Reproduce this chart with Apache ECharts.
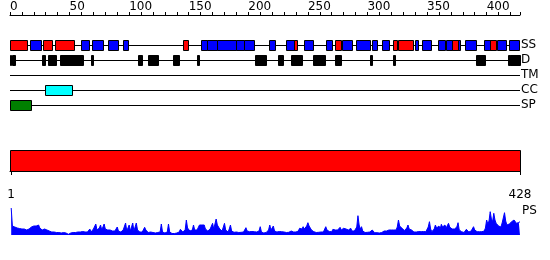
<!DOCTYPE html>
<html><head><meta charset="utf-8">
<script src="https://cdn.jsdelivr.net/npm/echarts@6/dist/echarts.min.js"></script>
<style>html,body{margin:0;padding:0;background:#fff}#c{width:550px;height:260px}</style>
</head><body><div id="c"></div>
<script>
const seqLength = 428;
const trackNames = ['SS', 'D', 'TM', 'CC', 'SP'];
const rulerLabels = [0, 50, 100, 150, 200, 250, 300, 350, 400];
const lengthLabels = [1, 428];
const helices = [[1,14],[29,35],[39,54],[146,149],[239,241],[274,278],[322,325],[327,338],[372,376],[404,408]];
const strands = [[18,26],[61,66],[70,78],[83,91],[96,99],[161,165],[166,174],[175,190],[191,196],[197,205],[218,222],[233,239],[248,254],[266,270],[280,287],[291,302],[305,308],[313,318],[341,342],[347,353],[360,365],[367,372],[376,378],[383,391],[399,404],[410,416],[420,427]];
const disorder = [[1,1],[3,4],[28,29],[33,39],[43,61],[69,70],[108,111],[117,124],[138,142],[158,159],[207,215],[226,229],[237,245],[255,264],[274,278],[303,304],[322,323],[392,399],[419,420],[421,428]];
const transmembrane = [];
const coiledCoil = [[30,52]];
const signalPeptide = [[1,18]];
const domains = [[1,428]];
const psProfile = [
27,9,8,8,7.5,7,7,6.5,6,6,
5.5,6,5,5,5.5,6,7,8,7,9,
10,9,11,10,7,5,5,4,6,8,
5,4,4,5,3,4,3,3,2.5,3,
2.5,3,2,3,2.5,2,2,1,0.7,0.7,
2,2.5,2.5,3,2.5,3,3,2.5,3,3,
3.5,4,3,5,3,4,6,3,4,6,
8,11,5,4,7,10,5,6,11,6,
5,5,4,5,6,4,5,4,6,8,
4,4,3,4,5,4,12,4,5,10,
4,6,12,4,5,12,5,3,3,3,
3,5,7.7,5,3,2.5,2.5,3,2,2.5,
2.5,2,3,2.5,2,3,11,3,2.3,2,
2.3,3,11,3,1.7,1.5,1.7,1.5,1.7,2,
2,3,5.7,4,3,3,5,15,7,5,
4,5,5,10,5,4,5,7,10,9,
10,9,10,6,5,4,5,6,5,11.7,
6,8,16,10,8,6,5,4,6,11.7,
5,3.3,3,6,10,4,3,2.7,2.5,3,
2.7,2.5,3,2.7,2.5,3,4,7.3,4,3,
3.3,3,3.5,3,3.3,4,3,3.3,4,8.3,
3,2.3,2,2.3,2.5,3,5,10,5,4,
9,4,3.3,3,3.3,3.5,3,3.3,2.5,3,
2.7,2.5,3,2.7,3,4,2.7,3,2.5,3,
3,4,6.7,5,6,8.3,6,7,9,12.3,
9,8.3,5,4,3.3,2.7,2.5,3,2.7,2.5,
3,2.7,3,4,8.3,5,3.3,3.5,3,3.3,
5.7,4,5,6.7,5,6,7.7,5,6,6.7,
5,6,6,5,5.5,6.7,4,3.3,4,5,
8,19.3,10,6,8.3,4,2.7,2.5,3,2.7,
2.5,3,4,5,3,2.3,2,2.3,2.5,2,
2.3,2.5,3.5,4,5.7,4,4.5,5,6.7,5,
4,5,4,5,8,15,9,7,6.7,5,
4.5,5,7,10,6,4,5,3.5,3,3.3,
3,3.3,3.5,3,3.3,3,3.5,4,3.3,5,
8,13.3,6,3.3,4,6,10,7,8.3,9,
6,10.7,8,7,10,7,9,11.7,8,8.3,
6,7,6,6,8,12.3,5,4,3.3,3,
2.5,2.3,5.7,4,3,3.3,4,6,8.3,5,
3.3,3.3,3,3.3,3.5,3.3,3.5,4,7,15,
11,14,23.3,16,13.3,21.7,15,11.7,11.7,9,
8.3,8,12,14,22.3,14,10,10,11,12,
13.3,12,15,13,11.7,12,12.5,13.3
];

const FONT = 'DejaVu Sans';
const rulerTicks = [];
for (let v = 0; v <= seqLength; v += 10) rulerTicks.push(v);
rulerTicks.push(seqLength);

function boxSeries(ranges, track, color) {
  return {
    type: 'custom', xAxisIndex: 0, yAxisIndex: 0, silent: true,
    data: ranges.map(r => [r[0], r[1], track]),
    encode: { x: [0, 1], y: 2 },
    renderItem: function (params, api) {
      const s = api.coord([api.value(0) - 1, api.value(2)]);
      const e = api.coord([api.value(1), api.value(2)]);
      const x0 = Math.round(s[0]) + 0.5, x1 = Math.round(e[0]) + 0.5;
      const yc = Math.round(s[1]);
      return { type: 'rect', shape: { x: x0, y: yc - 4.5, width: Math.max(x1 - x0, 1), height: 10 },
        style: { fill: color, stroke: '#000', lineWidth: 1 } };
    }
  };
}

const chart = echarts.init(document.getElementById('c'), null, { renderer: 'canvas' });
chart.setOption({
  animation: false,
  backgroundColor: '#fff',
  grid: [
    { left: 10, top: 45, width: 510, height: 60, outerBoundsMode: 'none', containLabel: false },
    { left: 10, top: 150, width: 510, height: 21, outerBoundsMode: 'none', containLabel: false },
    { left: 10, top: 208, width: 510, height: 27, outerBoundsMode: 'none', containLabel: false }
  ],
  xAxis: [
    { gridIndex: 0, type: 'value', min: 0, max: seqLength, position: 'top', offset: 30,
      axisLine: { show: true, lineStyle: { color: '#000', width: 1 } },
      axisTick: { show: true, customValues: rulerTicks, length: 3, lineStyle: { color: '#000' } },
      axisLabel: { show: true, customValues: rulerLabels, align: 'left', margin: 2, fontSize: 12, fontFamily: FONT, color: '#000' },
      splitLine: { show: false } },
    { gridIndex: 1, type: 'value', min: 0, max: seqLength, position: 'bottom', offset: 10,
      axisLine: { show: true, lineStyle: { color: '#000', width: 1 } },
      axisTick: { show: true, customValues: lengthLabels, length: 4, lineStyle: { color: '#000' } },
      axisLabel: { show: true, customValues: lengthLabels, margin: 8, fontSize: 12, fontFamily: FONT, color: '#000' },
      splitLine: { show: false } },
    { gridIndex: 2, type: 'value', min: 0, max: seqLength, show: false }
  ],
  yAxis: [
    { gridIndex: 0, type: 'category', data: trackNames, inverse: true, boundaryGap: false, position: 'right',
      axisLine: { show: false }, axisTick: { show: false },
      axisLabel: { show: true, interval: 0, margin: 1, fontSize: 12, fontFamily: FONT, color: '#000', align: 'left' },
      splitLine: { show: true, interval: 0, lineStyle: { color: '#000', width: 1 } } },
    { gridIndex: 1, type: 'value', min: 0, max: 1, show: false },
    { gridIndex: 2, type: 'value', min: 0, max: 27, show: false }
  ],
  graphic: [
    { type: 'text', left: 522, top: 205, style: { text: 'PS', fontSize: 12, fontFamily: FONT, fill: '#000' } }
  ],
  series: [
    boxSeries(strands, 0, '#0000ff'),
    boxSeries(helices, 0, '#ff0000'),
    boxSeries(disorder, 1, '#000000'),
    boxSeries(transmembrane, 2, '#808080'),
    boxSeries(coiledCoil, 3, '#00ffff'),
    boxSeries(signalPeptide, 4, '#008000'),
    { type: 'custom', xAxisIndex: 1, yAxisIndex: 1, silent: true,
      data: domains.map(r => [r[0], r[1]]),
      encode: { x: [0, 1] },
      renderItem: function (params, api) {
        const s = api.coord([api.value(0) - 1, 1]);
        const e = api.coord([api.value(1), 0]);
        return { type: 'rect', shape: { x: Math.round(s[0]) + 0.5, y: Math.round(s[1]) + 0.5,
          width: Math.round(e[0] - s[0]), height: Math.round(e[1] - s[1]) },
          style: { fill: '#ff0000', stroke: '#000', lineWidth: 1 } };
      } },
    { type: 'line', xAxisIndex: 2, yAxisIndex: 2, silent: true, symbol: 'none',
      data: psProfile.map((v, i) => [i + 1, v]),
      lineStyle: { color: '#0000ff', width: 1 },
      areaStyle: { color: '#0000ff', opacity: 1 } }
  ]
});
</script></body></html>
